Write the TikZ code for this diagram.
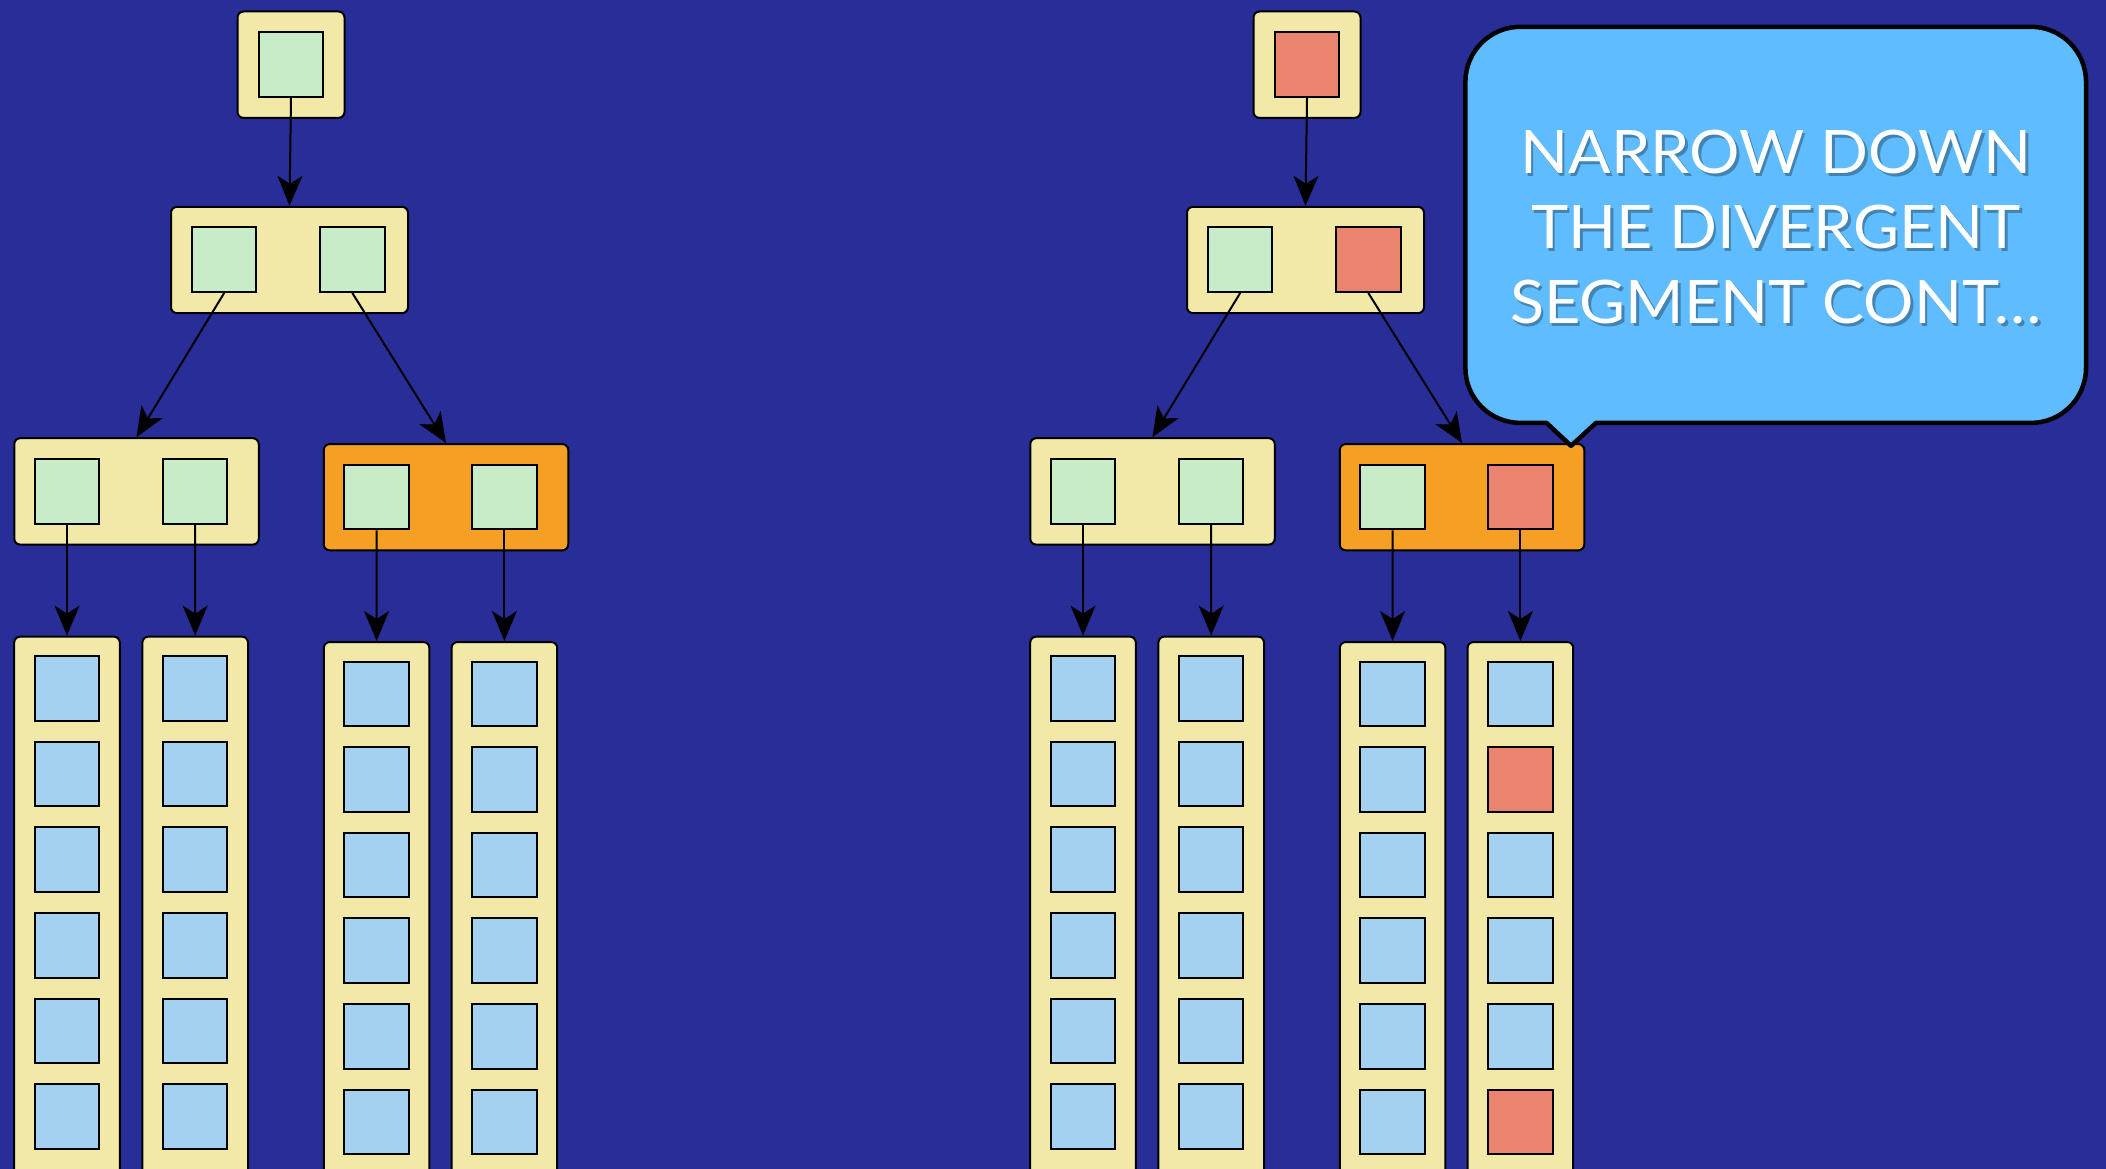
\documentclass[tikz,border=0pt]{standalone}
\usepackage{fontspec}
\usetikzlibrary{arrows.meta}
\newfontfamily\notefont[FakeStretch=1.05]{Lato}

\definecolor{night}{RGB}{41,45,152}
\definecolor{cream}{RGB}{242,233,169}
\definecolor{mint}{RGB}{200,236,200}
\definecolor{amber}{RGB}{245,159,36}
\definecolor{salmon}{RGB}{235,132,110}
\definecolor{sky}{RGB}{165,209,240}
\definecolor{bubble}{RGB}{95,188,255}

\tikzset{
  box/.style={draw, line width=2pt, rounded corners=6pt, fill=cream, inner sep=0pt},
  cell/.style={draw, line width=2pt, minimum size=64.5pt, inner sep=0pt},
  link/.style={-{Stealth[length=30pt,width=25pt,inset=8pt]}, line width=2pt},
  notetext/.style={align=center, font=\notefont\fontsize{60}{75}\selectfont}
}

\begin{document}
\begin{tikzpicture}[x=1pt,y=-1pt]

% Background
\useasboundingbox (0,0) rectangle (2106,1169);
\fill[night] (0,0) rectangle (2106,1169);
\clip (0,0) rectangle (2106,1169);

% Left tree
\node[box, minimum width=107pt, minimum height=106.4pt] (Ltop) at (291,64.7) {};
\node[cell, fill=mint] (Ltop1) at (291,64.7) {};

\node[box, minimum width=237pt, minimum height=106.3pt] (Lmid) at (289.5,260) {};
\node[cell, fill=mint] (Lmid1) at (224.2,259.7) {};
\node[cell, fill=mint] (Lmid2) at (352.3,259.7) {};

\node[box, minimum width=244.5pt, minimum height=106.4pt] (Lsub1) at (136.5,491.4) {};
\node[cell, fill=mint] (Lsub1a) at (67,491.4) {};
\node[cell, fill=mint] (Lsub1b) at (195,491.4) {};

\node[box, fill=amber, minimum width=244.5pt, minimum height=106.3pt] (Lsub2) at (446,497.2) {};
\node[cell, fill=mint] (Lsub2a) at (376.5,497.2) {};
\node[cell, fill=mint] (Lsub2b) at (504.4,497.2) {};

\foreach \n/\x/\y in {1/67/635.6, 2/195.2/635.6, 3/376.6/641, 4/504.4/641} {
  \node[box, minimum width=105.6pt, minimum height=540pt, anchor=north] (Lcol\n) at (\x,\y) {};
  \foreach \k in {0,...,5}
    \node[cell, fill=sky] (Lcol\n-\k) at (\x,\y+52.9+85.6*\k) {};
}

% Right tree
\begin{scope}[shift={(1016,0)}]
\node[box, minimum width=107pt, minimum height=106.4pt] (Rtop) at (291,64.7) {};
\node[cell, fill=salmon] (Rtop1) at (291,64.7) {};

\node[box, minimum width=237pt, minimum height=106.3pt] (Rmid) at (289.5,260) {};
\node[cell, fill=mint] (Rmid1) at (224.2,259.7) {};
\node[cell, fill=salmon] (Rmid2) at (352.3,259.7) {};

\node[box, minimum width=244.5pt, minimum height=106.4pt] (Rsub1) at (136.5,491.4) {};
\node[cell, fill=mint] (Rsub1a) at (67,491.4) {};
\node[cell, fill=mint] (Rsub1b) at (195,491.4) {};

\node[box, fill=amber, minimum width=244.5pt, minimum height=106.3pt] (Rsub2) at (446,497.2) {};
\node[cell, fill=mint] (Rsub2a) at (376.5,497.2) {};
\node[cell, fill=salmon] (Rsub2b) at (504.4,497.2) {};

\foreach \n/\x/\y in {1/67/635.6, 2/195.2/635.6, 3/376.6/641} {
  \node[box, minimum width=105.6pt, minimum height=540pt, anchor=north] (Rcol\n) at (\x,\y) {};
  \foreach \k in {0,...,5}
    \node[cell, fill=sky] (Rcol\n-\k) at (\x,\y+52.9+85.6*\k) {};
}
\node[box, minimum width=105.6pt, minimum height=540pt, anchor=north] (Rcol4) at (504.4,641) {};
\foreach \k/\c in {0/sky, 1/salmon, 2/sky, 3/sky, 4/sky, 5/salmon}
  \node[cell, fill=\c] (Rcol4-\k) at (504.4,693.9+85.6*\k) {};
\end{scope}

% Arrows
\foreach \t in {L,R} {
  \draw[link] (\t top1.south) -- (\t mid.north);
  \draw[link] (\t mid1.south) -- (\t sub1.north);
  \draw[link] (\t mid2.south) -- (\t sub2.north);
  \draw[link] (\t sub1a.south) -- (\t col1.north);
  \draw[link] (\t sub1b.south) -- (\t col2.north);
  \draw[link] (\t sub2a.south) -- (\t col3.north);
  \draw[link] (\t sub2b.south) -- (\t col4.north);
}

% Callout
\draw[fill=bubble, line width=4.5pt, line join=round]
  (1546.5,422.9) [rounded corners=55pt] -- (1465.4,422.9) -- (1465.4,26.8)
  -- (2086,26.8) -- (2086,422.9) [sharp corners] -- (1596,422.9)
  -- (1571,445.8) -- cycle;

\node[notetext, text=black, opacity=0.3] (noteshadow) at (1778.5,230)
  {NARROW DOWN\\THE DIVERGENT\\SEGMENT CONT…};
\node[notetext, text=white] (note) at (1776,227.5)
  {NARROW DOWN\\THE DIVERGENT\\SEGMENT CONT…};

\end{tikzpicture}
\end{document}
